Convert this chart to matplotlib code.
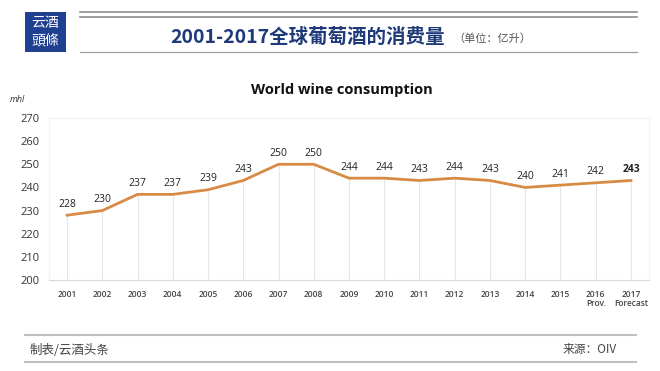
import matplotlib.pyplot as plt
import matplotlib.patches as patches
from matplotlib.lines import Line2D

plt.rcParams['font.family'] = ['Noto Sans CJK SC', 'DejaVu Sans']

years = ['2001', '2002', '2003', '2004', '2005', '2006', '2007', '2008', '2009',
         '2010', '2011', '2012', '2013', '2014', '2015', '2016\nProv.', '2017\nForecast']
consumption = [228, 230, 237, 237, 239, 243, 250, 250, 244, 244, 243, 244, 243, 240, 241, 242, 243]
yticks = [200, 210, 220, 230, 240, 250, 260, 270]

W, H = 660, 371
fig = plt.figure(figsize=(6.6, 3.71), dpi=100)
fig.patch.set_facecolor('white')

def fx(px):
    return px / W

def fy(py):
    return 1 - py / H

# header
fig.patches.append(patches.Rectangle((fx(25), fy(52)), fx(41), 40 / H, transform=fig.transFigure,
                                     facecolor='#1f3f91', edgecolor='none'))
fig.text(fx(45.5), fy(22.5), '云酒', color='white', fontsize=10, ha='center', va='center')
fig.text(fx(45.5), fy(41.5), '頭條', color='white', fontsize=10, ha='center', va='center',
         family=['Noto Sans CJK TC', 'Noto Sans CJK SC'])
for y, c, lw in [(12, '#8c8c8c', 1.2), (17, '#8c8c8c', 1.2), (52, '#a0a0a0', 0.9)]:
    fig.add_artist(Line2D([fx(80), fx(637)], [fy(y), fy(y)], color=c, lw=lw, transform=fig.transFigure))
fig.text(fx(308), fy(37), '2001-2017全球葡萄酒的消费量', color='#1f3a78', fontsize=14,
         fontweight='bold', ha='center', va='center')
fig.text(fx(453), fy(38.5), '（单位：亿升）', color='#555555', fontsize=8, ha='left', va='center')

# footer
for y in [335, 362]:
    fig.add_artist(Line2D([fx(25), fx(636)], [fy(y), fy(y)], color='#c0c0c0', lw=1.5,
                          transform=fig.transFigure))
fig.text(fx(30), fy(350), '制表/云酒头条', color='#444444', fontsize=9, ha='left', va='center')
fig.text(fx(563), fy(349), '来源：OIV', color='#444444', fontsize=8.5, ha='left', va='center')

# chart
ax = fig.add_axes([fx(49.4), fy(280), fx(648.6) - fx(49.4), (280 - 118) / H])
x = list(range(len(years)))
ax.vlines(x, 200, consumption, color='#e6e6e6', lw=0.8, zorder=1)
ax.plot(x, consumption, color='#d98a45', lw=2, zorder=3)
for i, v in enumerate(consumption):
    ax.annotate(str(v), (i, v), xytext=(0, 4), textcoords='offset points', ha='center', va='bottom',
                fontsize=7.5, color='#222222', family=['Open Sans', 'DejaVu Sans'],
                fontweight='bold' if i == len(consumption) - 1 else 'normal')

ax.set_xlim(-0.5, len(years) - 0.5)
ax.set_ylim(200, 270)
ax.set_yticks(yticks)
ax.set_yticklabels([str(t) for t in yticks], fontsize=8, color='#333333', family=['Open Sans', 'DejaVu Sans'])
ax.set_xticks(x)
ax.set_xticklabels(years, fontsize=6, color='#444444', family=['Open Sans', 'DejaVu Sans'],
                   linespacing=1.1, va='top', fontweight='semibold')
ax.tick_params(axis='both', length=0)
ax.tick_params(axis='y', pad=7)
ax.tick_params(axis='x', pad=7)
for s in ['top', 'right', 'left']:
    ax.spines[s].set_color('#f2f2f2')
    ax.spines[s].set_linewidth(0.8)
ax.spines['bottom'].set_color('#d9d9d9')
ax.spines['bottom'].set_linewidth(0.8)

fig.text(fx(342), fy(90), 'World wine consumption', fontsize=10.5,
         fontweight='bold', ha='center', va='center', color='#111111', family=['Open Sans', 'DejaVu Sans'])
fig.text(fx(10), fy(99), 'mhl', fontsize=6.5, style='italic', ha='left', va='center', color='#333333',
         family=['Open Sans', 'DejaVu Sans'])

fig.savefig('out.png', dpi=100)
